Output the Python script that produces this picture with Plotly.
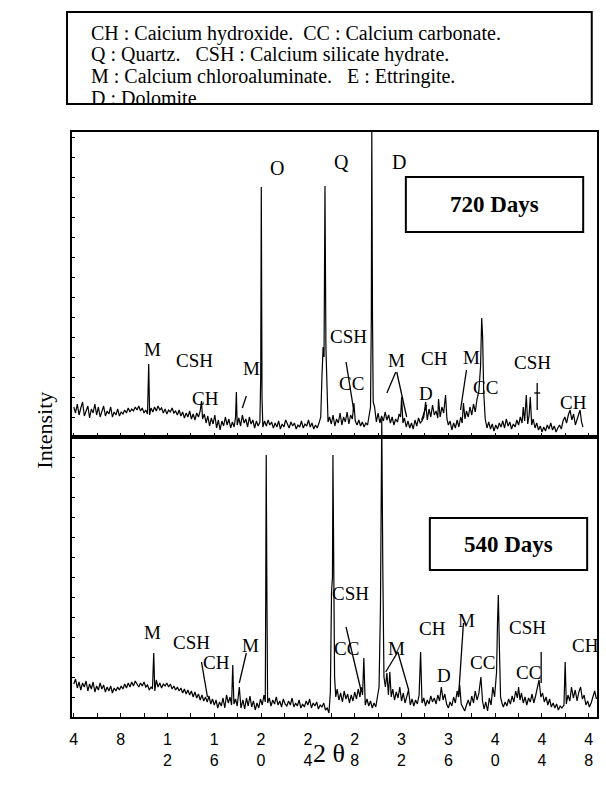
import plotly.graph_objects as go

# ---------------- data (2-theta in degrees, intensity in arbitrary units) ----------------
two_theta_720 = [4.00, 4.15, 4.30, 4.45, 4.60, 4.75, 4.90, 5.05, 5.20, 5.35, 5.50, 5.65, 5.80, 5.95, 6.10, 6.25, 6.40, 6.55, 6.70, 6.85,
                 7.00, 7.15, 7.30, 7.45, 7.60, 7.75, 7.90, 8.05, 8.20, 8.35, 8.50, 8.65, 8.80, 8.95, 9.10, 9.25, 9.40, 9.55, 9.70, 9.85,
                 10.00, 10.15, 10.30, 10.40, 10.48, 10.60, 10.75, 10.90, 11.05, 11.20, 11.35, 11.50, 11.65, 11.80, 11.95, 12.10, 12.25, 12.40, 12.55, 12.70,
                 12.85, 13.00, 13.15, 13.30, 13.45, 13.60, 13.75, 13.90, 14.05, 14.20, 14.35, 14.50, 14.65, 14.80, 14.91, 15.00, 15.15, 15.30, 15.45, 15.60,
                 15.75, 15.90, 16.05, 16.20, 16.35, 16.50, 16.65, 16.80, 16.95, 17.10, 17.25, 17.40, 17.55, 17.70, 17.82, 17.89, 17.96, 18.10, 18.25, 18.40,
                 18.55, 18.70, 18.85, 19.00, 19.15, 19.30, 19.45, 19.60, 19.75, 19.90, 19.97, 20.02, 20.08, 20.15, 20.30, 20.45, 20.60, 20.75, 20.90, 21.05,
                 21.20, 21.35, 21.50, 21.65, 21.80, 21.95, 22.10, 22.25, 22.40, 22.55, 22.70, 22.85, 23.00, 23.15, 23.30, 23.45, 23.60, 23.75, 23.90, 24.05,
                 24.20, 24.35, 24.50, 24.65, 24.80, 24.95, 25.10, 25.20, 25.30, 25.38, 25.46, 25.54, 25.62, 25.72, 25.85, 26.00, 26.15, 26.30, 26.45, 26.60,
                 26.75, 26.90, 27.05, 27.20, 27.35, 27.50, 27.65, 27.80, 27.93, 28.05, 28.20, 28.35, 28.50, 28.65, 28.80, 28.95, 29.10, 29.25, 29.35, 29.42,
                 29.46, 29.52, 29.58, 29.70, 29.85, 30.00, 30.15, 30.30, 30.45, 30.60, 30.75, 30.90, 31.05, 31.20, 31.35, 31.50, 31.65, 31.80, 31.92, 32.01,
                 32.12, 32.25, 32.40, 32.55, 32.70, 32.85, 33.00, 33.15, 33.30, 33.45, 33.60, 33.75, 33.90, 34.06, 34.20, 34.35, 34.50, 34.65, 34.80, 34.95,
                 35.10, 35.16, 35.30, 35.45, 35.60, 35.76, 35.88, 36.00, 36.15, 36.30, 36.45, 36.60, 36.75, 36.90, 37.05, 37.18, 37.29, 37.42, 37.55, 37.70,
                 37.85, 38.00, 38.15, 38.30, 38.45, 38.60, 38.75, 38.85, 38.93, 39.02, 39.15, 39.30, 39.45, 39.60, 39.75, 39.90, 40.05, 40.20, 40.35, 40.50,
                 40.65, 40.80, 40.95, 41.10, 41.25, 41.40, 41.55, 41.70, 41.85, 42.00, 42.15, 42.30, 42.40, 42.52, 42.66, 42.78, 42.90, 43.00, 43.12, 43.25,
                 43.40, 43.55, 43.70, 43.85, 44.00, 44.15, 44.30, 44.45, 44.60, 44.75, 44.90, 45.05, 45.20, 45.35, 45.50, 45.65, 45.80, 45.95, 46.10, 46.25,
                 46.40, 46.55, 46.70, 46.85, 47.00, 47.12, 47.25, 47.38, 47.50]
intensity_720 = [30, 24, 33, 22, 29, 35, 21, 27, 31, 19, 28, 24, 33, 22, 30, 20, 27, 31, 21, 26,
                 23, 30, 20, 25, 22, 28, 21, 25, 23, 27, 24, 29, 25, 28, 26, 30, 27, 31, 26, 29,
                 24, 27, 23, 73, 22, 29, 25, 30, 26, 31, 27, 29, 24, 28, 23, 27, 25, 29, 24, 26,
                 22, 27, 21, 25, 19, 24, 20, 26, 18, 23, 17, 24, 20, 26, 36, 18, 23, 14, 21, 11,
                 19, 13, 22, 9, 17, 7, 16, 11, 20, 12, 18, 9, 15, 10, 20, 45, 12, 19, 11, 22,
                 14, 18, 10, 20, 13, 17, 9, 16, 11, 15, 60, 250, 40, 10, 16, 11, 17, 12, 15, 9,
                 14, 10, 16, 8, 13, 10, 17, 12, 9, 15, 11, 14, 8, 12, 10, 16, 9, 13, 11, 17,
                 10, 14, 8, 12, 9, 14, 20, 60, 90, 80, 251, 90, 50, 15, 20, 13, 22, 11, 18, 14,
                 24, 12, 20, 15, 25, 13, 22, 18, 34, 16, 12, 17, 11, 15, 10, 14, 12, 22, 30, 120,
                 305, 120, 35, 30, 15, 24, 14, 21, 16, 25, 17, 22, 14, 20, 12, 18, 15, 23, 20, 40,
                 14, 19, 10, 16, 9, 14, 8, 17, 11, 19, 14, 16, 20, 35, 17, 28, 20, 32, 22, 26,
                 19, 38, 20, 30, 24, 42, 18, 12, 16, 7, 14, 9, 17, 10, 20, 14, 34, 18, 26, 20,
                 30, 22, 33, 25, 38, 45, 70, 119, 100, 45, 18, 9, 15, 8, 13, 6, 12, 8, 14, 10,
                 16, 9, 18, 11, 15, 8, 13, 10, 17, 12, 20, 14, 30, 16, 42, 13, 22, 40, 12, 18,
                 9, 14, 7, 11, 5, 10, 6, 12, 8, 14, 7, 11, 5, 9, 12, 8, 16, 20, 14, 22,
                 27, 17, 23, 12, 18, 24, 27, 15, 10]

two_theta_540 = [4.00, 4.15, 4.30, 4.45, 4.60, 4.75, 4.90, 5.05, 5.20, 5.35, 5.50, 5.65, 5.80, 5.95, 6.10, 6.25, 6.40, 6.55, 6.70, 6.85,
                 7.00, 7.15, 7.30, 7.45, 7.60, 7.75, 7.90, 8.05, 8.20, 8.35, 8.50, 8.65, 8.80, 8.95, 9.10, 9.25, 9.40, 9.55, 9.70, 9.85,
                 10.00, 10.15, 10.30, 10.45, 10.60, 10.72, 10.83, 10.92, 11.05, 11.20, 11.35, 11.50, 11.65, 11.80, 11.95, 12.10, 12.25, 12.40, 12.55, 12.70,
                 12.85, 13.00, 13.15, 13.30, 13.45, 13.60, 13.75, 13.90, 14.05, 14.20, 14.35, 14.50, 14.65, 14.80, 14.95, 15.10, 15.25, 15.40, 15.55, 15.70,
                 15.85, 16.00, 16.15, 16.30, 16.45, 16.60, 16.75, 16.90, 17.05, 17.20, 17.35, 17.48, 17.58, 17.68, 17.82, 17.96, 18.14, 18.28, 18.45, 18.60,
                 18.75, 18.90, 19.05, 19.20, 19.35, 19.50, 19.65, 19.80, 19.95, 20.10, 20.25, 20.36, 20.40, 20.44, 20.50, 20.56, 20.70, 20.85, 21.00, 21.15,
                 21.30, 21.45, 21.60, 21.75, 21.90, 22.05, 22.20, 22.35, 22.50, 22.65, 22.80, 22.95, 23.10, 23.25, 23.40, 23.55, 23.70, 23.85, 24.00, 24.15,
                 24.30, 24.45, 24.60, 24.75, 24.90, 25.05, 25.20, 25.35, 25.50, 25.65, 25.80, 25.92, 26.02, 26.10, 26.14, 26.20, 26.28, 26.38, 26.50, 26.65,
                 26.80, 26.95, 27.10, 27.25, 27.40, 27.55, 27.70, 27.85, 28.00, 28.15, 28.30, 28.45, 28.55, 28.67, 28.78, 28.90, 29.05, 29.20, 29.35, 29.50,
                 29.65, 29.80, 29.95, 30.08, 30.20, 30.31, 30.40, 30.50, 30.62, 30.75, 30.88, 31.00, 31.12, 31.25, 31.40, 31.55, 31.70, 31.85, 32.00, 32.15,
                 32.30, 32.45, 32.60, 32.75, 32.90, 33.05, 33.20, 33.35, 33.50, 33.63, 33.75, 33.90, 34.05, 34.20, 34.35, 34.50, 34.65, 34.80, 34.95, 35.10,
                 35.25, 35.40, 35.55, 35.70, 35.85, 36.00, 36.15, 36.30, 36.45, 36.60, 36.75, 36.87, 36.97, 37.10, 37.25, 37.40, 37.55, 37.70, 37.85, 38.00,
                 38.15, 38.30, 38.45, 38.60, 38.78, 38.92, 39.05, 39.20, 39.35, 39.50, 39.65, 39.80, 39.95, 40.12, 40.20, 40.27, 40.36, 40.46, 40.58, 40.70,
                 40.85, 41.00, 41.15, 41.30, 41.45, 41.60, 41.75, 41.90, 42.00, 42.12, 42.25, 42.40, 42.55, 42.70, 42.85, 43.00, 43.15, 43.30, 43.45, 43.60,
                 43.75, 43.90, 44.05, 44.20, 44.35, 44.50, 44.65, 44.80, 44.95, 45.10, 45.25, 45.40, 45.55, 45.70, 45.88, 45.98, 46.08, 46.22, 46.38, 46.52,
                 46.68, 46.84, 47.00, 47.15, 47.30, 47.45, 47.60, 47.75, 47.90, 48.05, 48.20, 48.35, 48.50, 48.65]
intensity_540 = [33, 38, 29, 35, 27, 34, 30, 36, 26, 33, 28, 35, 25, 31, 27, 34, 28, 32, 25, 30,
                 26, 31, 24, 29, 26, 30, 27, 31, 28, 33, 29, 34, 30, 35, 31, 36, 33, 30, 34, 31,
                 35, 30, 32, 27, 30, 28, 64, 26, 37, 30, 34, 29, 33, 31, 34, 30, 33, 28, 31, 27,
                 30, 26, 29, 24, 28, 23, 27, 22, 26, 20, 25, 19, 23, 17, 22, 16, 20, 15, 21, 13,
                 18, 12, 17, 9, 15, 11, 19, 9, 22, 14, 20, 12, 52, 13, 18, 11, 30, 9, 17, 8,
                 19, 11, 21, 10, 16, 7, 14, 9, 18, 12, 22, 15, 130, 262, 120, 14, 19, 11, 17, 13,
                 20, 12, 16, 10, 18, 13, 11, 16, 12, 19, 10, 14, 11, 17, 9, 13, 10, 16, 12, 18,
                 9, 14, 11, 15, 8, 12, 10, 14, 7, 9, 4, 25, 125, 140, 262, 125, 40, 20, 28, 17,
                 24, 15, 26, 18, 23, 14, 22, 16, 25, 18, 28, 20, 30, 22, 59, 12, 18, 11, 16, 9,
                 14, 10, 20, 30, 110, 298, 150, 40, 30, 44, 22, 45, 20, 28, 17, 25, 19, 30, 16, 24,
                 14, 20, 27, 12, 18, 11, 17, 13, 22, 65, 14, 19, 11, 17, 13, 21, 15, 19, 13, 22,
                 16, 30, 17, 23, 13, 9, 15, 11, 20, 14, 26, 20, 32, 13, 9, 6, 12, 17, 11, 21,
                 14, 26, 17, 23, 40, 16, 8, 15, 6, 19, 12, 30, 20, 45, 95, 122, 70, 20, 14, 10,
                 15, 11, 18, 13, 21, 15, 26, 19, 30, 17, 24, 14, 20, 12, 19, 15, 23, 14, 21, 28,
                 37, 20, 24, 15, 20, 12, 18, 10, 14, 9, 13, 7, 11, 9, 12, 55, 13, 22, 16, 30,
                 19, 27, 16, 25, 30, 18, 22, 12, 16, 10, 14, 20, 26, 18]

tick_vals = [4, 8, 12, 16, 20, 24, 28, 32, 36, 40, 44, 48]
tick_text = ["4", "8", "1<br>2", "1<br>6", "2<br>0", "2<br>4", "2<br>8", "3<br>2", "3<br>6", "4<br>0", "4<br>4", "4<br>8"]

legend_lines = ["CH : Caicium hydroxide.  CC : Calcium carbonate.",
                "Q : Quartz.   CSH : Calcium silicate hydrate.",
                "M : Calcium chloroaluminate.   E : Ettringite.",
                "D : Dolomite"]

# phase labels: (text, 2theta, intensity, font size)
labels_720 = [("O", 21.38, 269, 20), ("Q", 26.83, 275, 20), ("D", 31.76, 275, 20),
              ("M", 10.74, 88, 19), ("CSH", 14.32, 77, 19), ("CH", 15.26, 39, 19), ("M", 19.17, 69, 19),
              ("CSH", 27.44, 101, 19), ("CC", 27.70, 54, 19), ("M", 31.60, 77, 19), ("CH", 34.85, 79, 19),
              ("D", 34.08, 44, 19), ("M", 37.98, 80, 19), ("CC", 39.17, 50, 19), ("CSH", 43.17, 75, 19),
              ("CH", 46.66, 35, 19)]
labels_540 = [("M", 10.74, 85, 19), ("CSH", 14.06, 75, 19), ("CH", 16.20, 55, 19), ("M", 19.09, 72, 19),
              ("CSH", 27.60, 124, 19), ("CC", 27.26, 69, 19), ("M", 31.60, 69, 19), ("CH", 34.66, 89, 19),
              ("D", 35.60, 42, 19), ("M", 37.55, 97, 19), ("CC", 38.91, 55, 19), ("CSH", 42.74, 90, 19),
              ("CC", 42.83, 45, 19), ("CH", 47.75, 72, 19)]

# leader lines: (2theta0, I0, 2theta1, I1)
leaders_720 = [(18.74, 41, 18.40, 29), (27.26, 75, 27.94, 25), (31.51, 65, 30.75, 44), (31.59, 65, 32.44, 20),
               (34.15, 32, 33.72, 17), (37.55, 67, 37.04, 27), (43.59, 54, 43.59, 27), (43.34, 44, 43.85, 44)]
leaders_540 = [(14.91, 55, 15.42, 20), (18.74, 64, 18.14, 34), (27.26, 90, 28.53, 27), (31.68, 65, 30.65, 45),
               (31.68, 65, 32.61, 27), (37.29, 94, 36.87, 20), (43.93, 65, 43.93, 34)]

# sample boxes: (text, x0, x1, y0, y1)
box_720 = ("720 Days", 32.37, 47.52, 205, 260)
box_540 = ("540 Days", 34.42, 47.86, 147, 199)

SERIF = "Liberation Serif"
SANS = "Liberation Sans"

SPLIT = 280 / 585.0  # fraction of plot height used by the lower (540 days) panel

fig = go.Figure()
# lower pattern drawn on a full-height helper axis so its tallest peak can rise past the panel border
fig.add_trace(go.Scatter(x=two_theta_540, y=intensity_540, mode="lines",
                         line=dict(color="black", width=1.2), xaxis="x", yaxis="y3", showlegend=False))
fig.add_trace(go.Scatter(x=two_theta_720, y=intensity_720, mode="lines",
                         line=dict(color="black", width=1.2), xaxis="x2", yaxis="y2", showlegend=False))

xr = [3.847, 48.70]
axis_common = dict(showline=True, linecolor="black", linewidth=1.5, mirror=True,
                   showgrid=False, zeroline=False)

fig.update_layout(
    width=606, height=789,
    margin=dict(l=72, r=7, t=132, b=72),
    paper_bgcolor="white", plot_bgcolor="rgba(0,0,0,0)",
    xaxis=dict(**axis_common, range=xr, anchor="y", domain=[0, 1],
               tickmode="array", tickvals=tick_vals, ticktext=tick_text,
               ticks="inside", ticklen=4, tickcolor="black", tickwidth=1,
               tickfont=dict(family=SANS, size=16, color="black"), ticklabelstandoff=7,
               minor=dict(tickmode="linear", tick0=4, dtick=2, ticks="inside", ticklen=4, tickcolor="black")),
    yaxis=dict(**axis_common, range=[0, 280], domain=[0, SPLIT], anchor="x",
               showticklabels=False, ticks="inside", ticklen=3, dtick=20, tickcolor="black"),
    yaxis3=dict(range=[0, 585], domain=[0, 1], anchor="x", visible=False, showgrid=False, zeroline=False),
    xaxis2=dict(**axis_common, range=xr, anchor="y2", matches="x", showticklabels=False,
                tickmode="linear", tick0=4, dtick=2, ticks="inside", ticklen=4, tickcolor="black"),
    yaxis2=dict(**axis_common, range=[0, 305], domain=[SPLIT, 1], anchor="x2",
                showticklabels=False, ticks="inside", ticklen=3, dtick=20, tickcolor="black"),
)

annotations = []
shapes = []

for (t, x, y, s) in labels_720:
    annotations.append(dict(text=t, x=x, y=y, xref="x2", yref="y2", showarrow=False,
                            font=dict(family=SERIF, size=s, color="black")))
for (t, x, y, s) in labels_540:
    annotations.append(dict(text=t, x=x, y=y, xref="x", yref="y", showarrow=False,
                            font=dict(family=SERIF, size=s, color="black")))
for (x0, y0, x1, y1) in leaders_720:
    shapes.append(dict(type="line", x0=x0, y0=y0, x1=x1, y1=y1, xref="x2", yref="y2",
                       line=dict(color="black", width=1.3)))
for (x0, y0, x1, y1) in leaders_540:
    shapes.append(dict(type="line", x0=x0, y0=y0, x1=x1, y1=y1, xref="x", yref="y",
                       line=dict(color="black", width=1.3)))

for (t, x0, x1, y0, y1), (xr_, yr_) in [(box_720, ("x2", "y2")), (box_540, ("x", "y"))]:
    shapes.append(dict(type="rect", x0=x0, x1=x1, y0=y0, y1=y1, xref=xr_, yref=yr_,
                       line=dict(color="black", width=2), fillcolor="white", layer="above"))
    annotations.append(dict(text="<b>%s</b>" % t, x=(x0 + x1) / 2, y=(y0 + y1) / 2, xref=xr_, yref=yr_,
                            showarrow=False, font=dict(family=SERIF, size=23, color="black")))

# legend box above the plots
shapes.append(dict(type="rect", xref="paper", yref="paper", x0=-0.0095, x1=0.99, y0=1.0479, y1=1.2051,
                   line=dict(color="black", width=2)))
for i, line in enumerate(legend_lines):
    annotations.append(dict(text=line, xref="paper", yref="paper", x=0.032, y=1.1692 - i * 0.0368,
                            xanchor="left", yanchor="middle", showarrow=False,
                            font=dict(family=SERIF, size=20, color="black")))

annotations.append(dict(text="Intensity", xref="paper", yref="paper", x=-0.0797, y=0.4906, textangle=-90,
                        showarrow=False, font=dict(family=SERIF, size=22, color="black")))
annotations.append(dict(text="2 θ", xref="paper", yref="paper", x=0.4896, y=-0.0906,
                        showarrow=False, font=dict(family=SERIF, size=26, color="black")))

fig.update_layout(annotations=annotations, shapes=shapes)
fig.write_html("out.html")
